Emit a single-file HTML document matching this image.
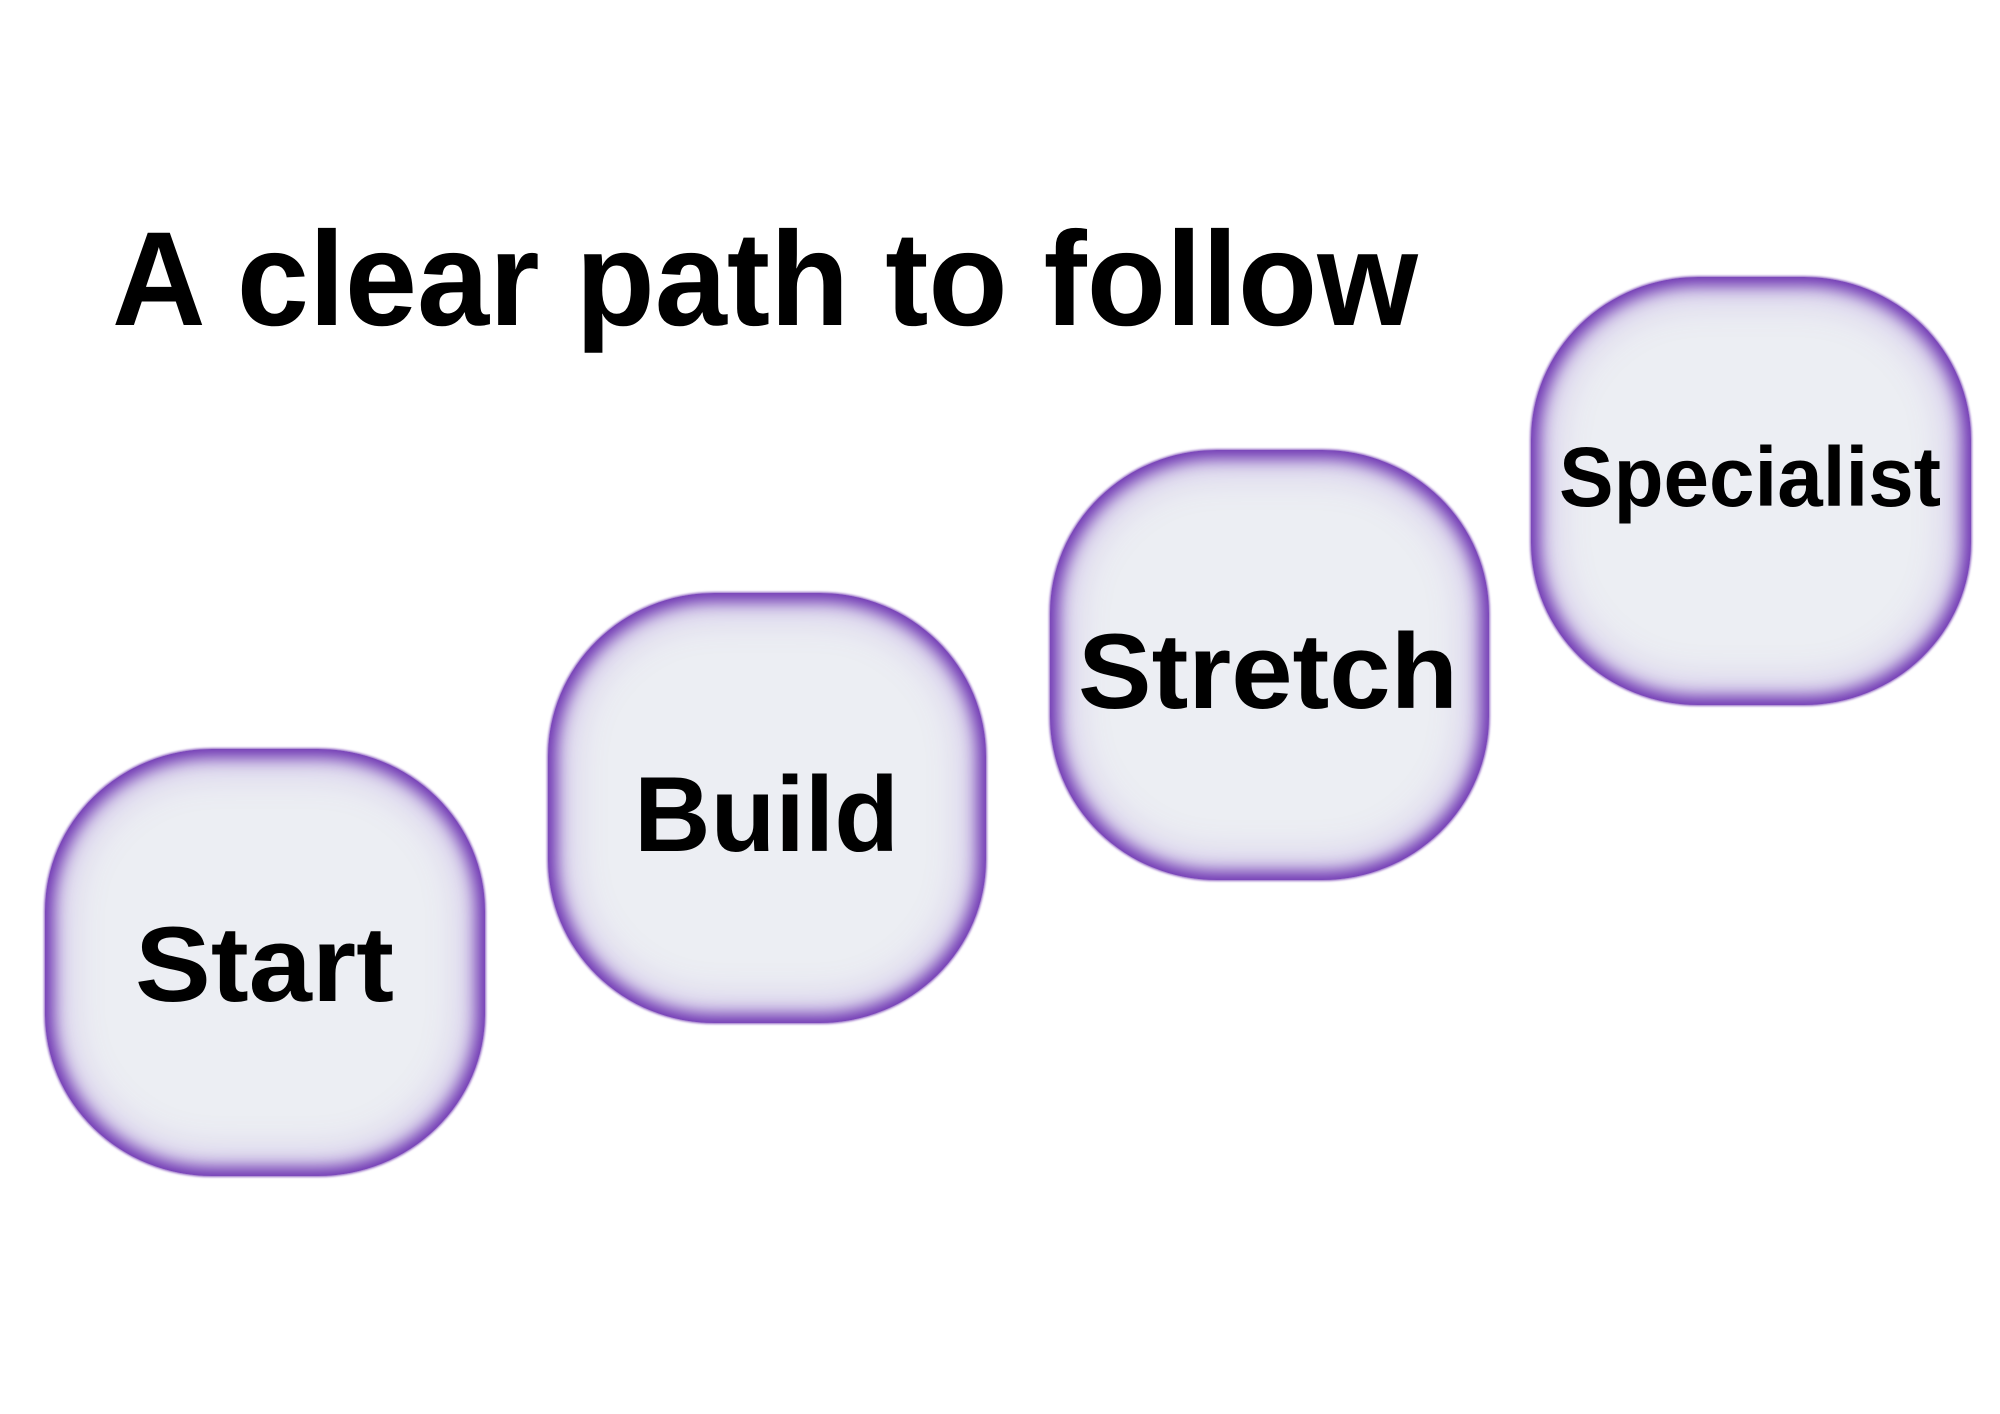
<!DOCTYPE html>
<html><head><meta charset="utf-8"><style>
html,body{margin:0;padding:0;background:#fff;width:2000px;height:1414px;overflow:hidden}
.b{position:absolute;border-radius:38%;background:#eceef3;
box-shadow:inset 0 0 16px 8px #6a2fb0, inset 0 0 40px 16px rgba(140,95,205,.35), 0 0 2px 1px rgba(100,40,170,.7);}
svg{position:absolute;left:0;top:0}
</style></head><body>
<div class="b" style="left:45px;top:749px;width:440px;height:427px"></div>
<div class="b" style="left:548px;top:593px;width:438px;height:430px"></div>
<div class="b" style="left:1050px;top:450px;width:439px;height:430px"></div>
<div class="b" style="left:1531px;top:277px;width:440px;height:428px"></div>
<svg width="2000" height="1414" font-family="'Liberation Sans',sans-serif" font-weight="bold" fill="#000">
<text x="112" y="325" font-size="134" textLength="1306" lengthAdjust="spacingAndGlyphs">A clear path to follow</text>
<text x="135" y="1001" font-size="107" textLength="259" lengthAdjust="spacingAndGlyphs">Start</text>
<text x="634" y="851" font-size="107" textLength="265" lengthAdjust="spacingAndGlyphs">Build</text>
<text x="1078" y="708" font-size="107" textLength="380" lengthAdjust="spacingAndGlyphs">Stretch</text>
<text x="1559" y="506" font-size="84" textLength="382" lengthAdjust="spacingAndGlyphs">Specialist</text>
</svg>
</body></html>
